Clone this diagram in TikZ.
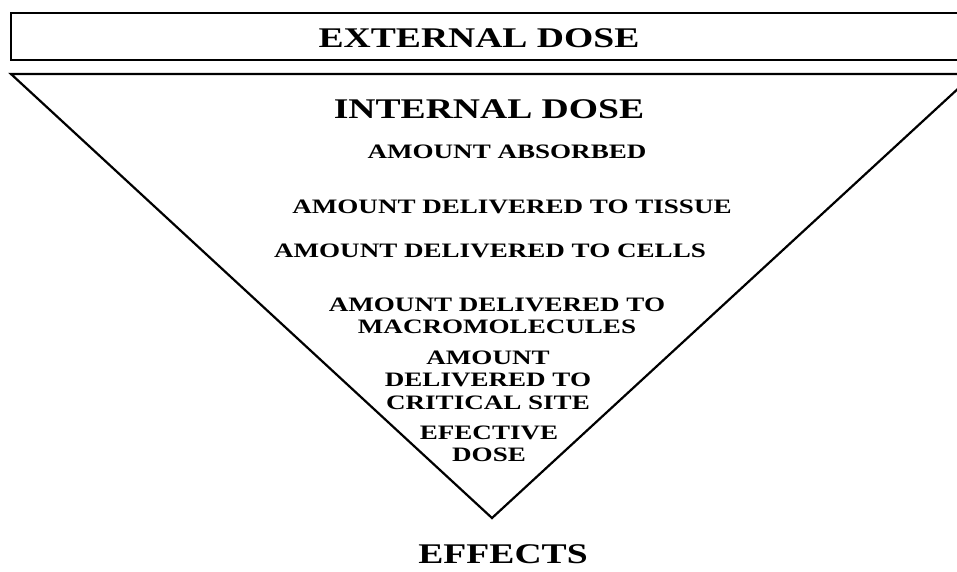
\documentclass[tikz,border=0pt]{standalone}
\usepackage{fontspec}
\newfontfamily\dosefont{Liberation Serif}[FakeStretch=1.32]
\usetikzlibrary{positioning}

\begin{document}
\begin{tikzpicture}[
    x=1pt, y=-1pt,
    edge/.style={draw, line width=2.2pt, line join=miter},
    big/.style={font=\dosefont\bfseries\fontsize{28.5}{32}\selectfont, inner sep=0pt},
    lbl/.style={font=\dosefont\bfseries\fontsize{20.5}{22.5}\selectfont, align=center, inner sep=0pt},
]
\useasboundingbox (0,0) rectangle (957,571);
\clip (0,0) rectangle (957,571);

% --- External dose bar ---
\draw[edge] (990,13) -- (11,13) -- (11,60) -- (990,60);
\node[big] (external) at (479,38) {EXTERNAL DOSE};

% --- Internal dose funnel ---
\draw[edge] (990,74) -- (11,74) -- (492,518) -- (974,74);
\node[big] (internal) at (489,109) {INTERNAL DOSE};

\node[lbl] (absorbed) at (507,152) {AMOUNT ABSORBED};
\node[lbl] (tissue) at (512,207) {AMOUNT DELIVERED TO TISSUE};
\node[lbl] (cells) at (490,251) {AMOUNT DELIVERED TO CELLS};
\node[lbl] (macro) at (497,316) {AMOUNT DELIVERED TO\\MACROMOLECULES};
\node[lbl] (site) at (488,380) {AMOUNT\\DELIVERED TO\\CRITICAL SITE};
\node[lbl] (effective) at (489,444) {EFECTIVE\\DOSE};

% --- Outcome ---
\node[big] (effects) at (503,554) {EFFECTS};
\end{tikzpicture}
\end{document}
